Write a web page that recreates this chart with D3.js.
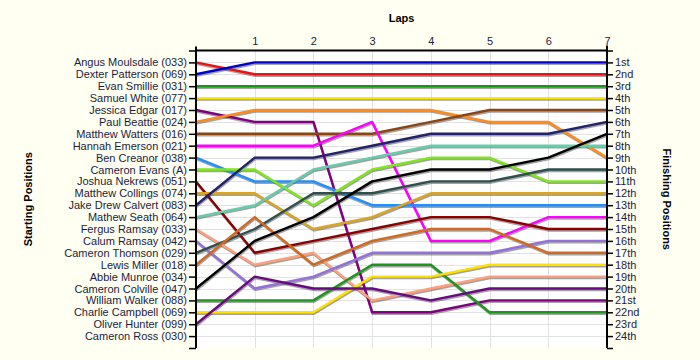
<!DOCTYPE html>
<html>
<head>
<meta charset="utf-8">
<script src="https://cdn.jsdelivr.net/npm/d3@7"></script>
<style>
  html, body { margin: 0; padding: 0; background: #FFFFF2; }
  svg { display: block; }
  text { font-family: "Liberation Sans", Arial, sans-serif; }
</style>
</head>
<body>
<svg id="chart" width="700" height="360"></svg>
<script>
// ---------- data ----------
const laps = [0, 1, 2, 3, 4, 5, 6, 7];
const lapLabels = ["", "1", "2", "3", "4", "5", "6", "7"];

const drivers = [
  "Angus Moulsdale (033)", "Dexter Patterson (069)", "Evan Smillie (031)", "Samuel White (077)",
  "Jessica Edgar (017)", "Paul Beattie (024)", "Matthew Watters (016)", "Hannah Emerson (021)",
  "Ben Creanor (038)", "Cameron Evans (A)", "Joshua Nekrews (051)", "Matthew Collings (074)",
  "Jake Drew Calvert (083)", "Mathew Seath (064)", "Fergus Ramsay (033)", "Calum Ramsay (042)",
  "Cameron Thomson (029)", "Lewis Miller (018)", "Abbie Munroe (034)", "Cameron Colville (047)",
  "William Walker (088)", "Charlie Campbell (069)", "Oliver Hunter (099)", "Cameron Ross (030)"
];

const driverColors = [
  "#ee1111", "#0000cc", "#119911", "#ffe800",
  "#800080", "#ff8c1a", "#8b4513", "#ff00ff",
  "#1e90ff", "#7fe81a", "#8b0000", "#daa520",
  "#22226e", "#66cdaa", "#ffa07a", "#9370db",
  "#2f4f4f", "#d2691e", "#cccccc", "#000000",
  "#1e961e", "#ffe000", "#6a0a80", "#cccccc"
];

// position of each driver at laps 0..7 (null = no lap data)
const lapPositions = [
  [1, 2, 2, 2, 2, 2, 2, 2],
  [2, 1, 1, 1, 1, 1, 1, 1],
  [3, 3, 3, 3, 3, 3, 3, 3],
  [4, 4, 4, 4, 4, 4, 4, 4],
  [5, 6, 6, 22, 22, 21, 21, 21],
  [6, 5, 5, 5, 5, 6, 6, 9],
  [7, 7, 7, 7, 6, 5, 5, 5],
  [8, 8, 8, 6, 16, 16, 14, 14],
  [9, 11, 11, 13, 13, 13, 13, 13],
  [10, 10, 13, 10, 9, 9, 11, 11],
  [11, 17, 16, 15, 14, 14, 15, 15],
  [12, 12, 15, 14, 12, 12, 12, 12],
  [13, 9, 9, 8, 7, 7, 7, 6],
  [14, 13, 10, 9, 8, 8, 8, 8],
  [15, 18, 17, 21, 20, 19, 19, 19],
  [16, 20, 19, 17, 17, 17, 16, 16],
  [17, 15, 12, 12, 11, 11, 10, 10],
  [18, 14, 18, 16, 15, 15, 17, 17],
  null,
  [20, 16, 14, 11, 10, 10, 9, 7],
  [21, 21, 21, 18, 18, 22, 22, 22],
  [22, 22, 22, 19, 19, 18, 18, 18],
  [23, 19, 20, 20, 21, 20, 20, 20],
  null
];

const finishLabels = [
  "1st", "2nd", "3rd", "4th", "5th", "6th", "7th", "8th", "9th", "10th", "11th", "12th",
  "13th", "14th", "15th", "16th", "17th", "18th", "19th", "20th", "21st", "22nd", "23rd", "24th"
];
const positionTicks = d3.range(1, 25);

// ---------- layout ----------
const svg = d3.select("#chart");
const x = d3.scaleLinear().domain([0, 7]).range([196, 607]);
const y = d3.scaleLinear().domain([0, 25]).range([50.5, 348]);
const textColor = "#1c1c3c";

// plot background
svg.append("rect")
  .attr("x", x(0)).attr("y", y(0))
  .attr("width", x(7) - x(0)).attr("height", y(25) - y(0))
  .attr("fill", "#ffffff");

// grid
const grid = svg.append("g").attr("stroke", "#e2e2e2").attr("stroke-width", 1);
grid.selectAll("line.v").data(laps.slice(1, 7)).join("line")
  .attr("x1", d => Math.round(x(d)) + 0.5).attr("x2", d => Math.round(x(d)) + 0.5)
  .attr("y1", y(0)).attr("y2", y(25));
grid.selectAll("line.h").data(positionTicks).join("line")
  .attr("x1", x(0)).attr("x2", x(7))
  .attr("y1", d => Math.round(y(d)) + 0.5).attr("y2", d => Math.round(y(d)) + 0.5);

// series
const series = drivers.map((name, i) => ({ name, color: driverColors[i], pos: lapPositions[i] }))
  .filter(d => d.pos);
const line = d3.line().x((d, i) => x(laps[i])).y(d => y(d));

svg.append("g").attr("transform", "translate(0.5,1.5)")
  .selectAll("path").data(series).join("path")
  .attr("d", d => line(d.pos))
  .attr("fill", "none").attr("stroke", "#555").attr("stroke-opacity", 0.55)
  .attr("stroke-width", 2.4);

svg.append("g")
  .selectAll("path").data(series).join("path")
  .attr("d", d => line(d.pos))
  .attr("fill", "none").attr("stroke", d => d.color)
  .attr("stroke-width", 2.4).attr("stroke-linejoin", "round");

// axes
const leftAxis = d3.axisLeft(y).tickValues(d3.range(0, 26)).tickSize(7).tickPadding(2)
  .tickFormat(d => (d >= 1 && d <= 24) ? drivers[d - 1] : "");
const gl = svg.append("g").attr("transform", `translate(${x(0)},0)`).call(leftAxis);

const rightAxis = d3.axisRight(y).tickValues(d3.range(0, 26)).tickSize(6).tickPadding(2)
  .tickFormat(d => (d >= 1 && d <= 24) ? finishLabels[d - 1] : "");
const gr = svg.append("g").attr("transform", `translate(${x(7)},0)`).call(rightAxis);

const topAxis = d3.axisTop(x).tickValues(laps).tickSize(0).tickPadding(6)
  .tickFormat((d, i) => lapLabels[i]);
const gt = svg.append("g").attr("transform", `translate(0,${y(0)})`).call(topAxis);

[gl, gr, gt].forEach(g => {
  g.select(".domain").attr("stroke", "#000").attr("stroke-width", 2);
  g.selectAll(".tick line").attr("stroke", "#000").attr("stroke-width", 1.5);
  g.selectAll(".tick text").attr("fill", textColor)
    .style("font-size", "11px").style("font-family", '"Liberation Sans", Arial, sans-serif');
});
gt.select(".domain").attr("d", `M${x(0) - 1},0H${x(7) + 1}`);
gl.select(".domain").attr("d", `M0,${y(0) - 4}V${y(25)}`);
gr.select(".domain").attr("d", `M0,${y(0) - 5}V${y(25)}`);

// titles
svg.append("text").attr("x", (x(0) + x(7)) / 2).attr("y", 22)
  .attr("text-anchor", "middle").attr("font-weight", "bold").attr("font-size", 11)
  .attr("fill", "#000").text("Laps");
svg.append("text")
  .attr("transform", `translate(32,${(y(0) + y(25)) / 2}) rotate(-90)`)
  .attr("text-anchor", "middle").attr("font-weight", "bold").attr("font-size", 11)
  .attr("fill", "#000").text("Starting Positions");
svg.append("text")
  .attr("transform", `translate(663,${(y(0) + y(25)) / 2}) rotate(90)`)
  .attr("text-anchor", "middle").attr("font-weight", "bold").attr("font-size", 11)
  .attr("fill", "#000").text("Finishing Positions");
</script>
</body>
</html>
